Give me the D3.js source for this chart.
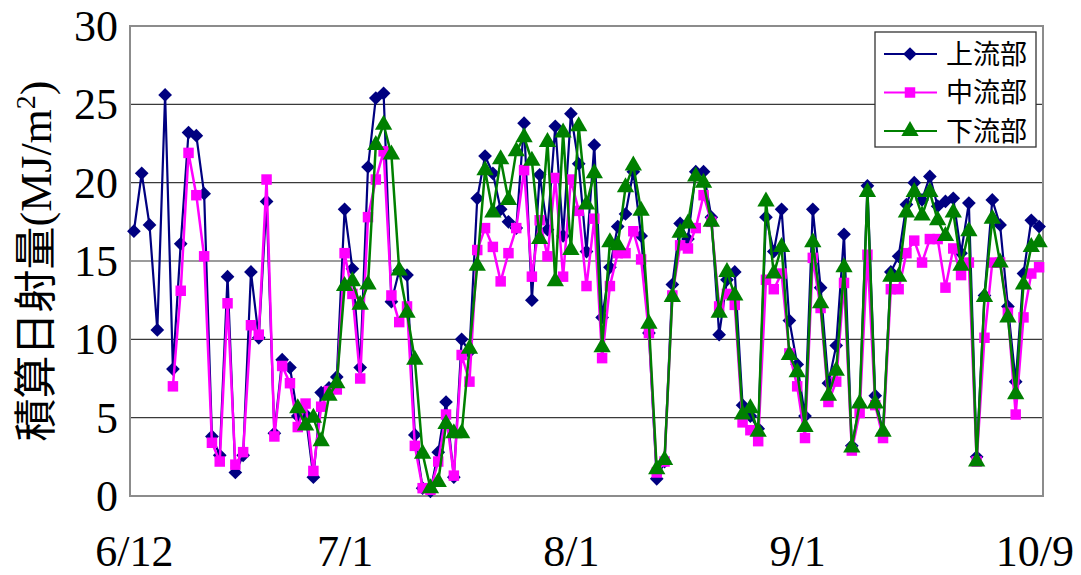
<!DOCTYPE html>
<html>
<head>
<meta charset="utf-8">
<script src="https://cdn.jsdelivr.net/npm/d3@7"></script>
<style>
  html, body { margin: 0; padding: 0; background: #fff; }
  svg { display: block; }
</style>
</head>
<body>
<svg id="chart" width="1081" height="575"></svg>
<script>
// Daily integrated solar radiation (MJ/m2), 6/12 - 10/9
const upstream = [
  16.9, 20.6, 17.3, 10.6, 25.6, 8.1, 16.1, 23.2, 23.0, 19.3,
  3.8, 2.6, 14.0, 1.5, 2.6, 14.3, 10.1, 18.8, 4.0, 8.7,
  8.2, 5.1, 5.2, 1.2, 6.6, 6.9, 7.6, 18.3, 14.5, 8.2,
  21.0, 25.4, 25.7, 12.4, 14.4, 14.1, 3.9, 0.5, 0.3, 2.8,
  6.0, 1.2, 10.0, 9.2, 19.0, 21.7, 20.6, 18.3, 17.5, 17.1,
  23.8, 12.5, 20.5, 17.0, 23.6, 16.6, 24.4, 21.2, 15.6, 22.4,
  11.4, 14.6, 17.2, 18.0, 20.7, 16.6, 10.4, 1.1, 2.2, 13.5,
  17.4, 16.4, 20.7, 20.7, 17.8, 10.3, 13.8, 14.3, 5.8, 5.1,
  4.3, 17.8, 15.6, 18.3, 11.2, 8.4, 5.1, 18.3, 13.3, 7.2,
  9.6, 16.7, 3.2, 5.8, 19.8, 6.4, 4.0, 14.3, 15.3, 18.6,
  20.0, 18.9, 20.4, 18.5, 18.8, 19.0, 15.5, 18.7, 2.5, 12.8,
  18.9, 17.3, 12.1, 7.3, 14.2, 17.6, 17.2
];

const midstream = [
  null, null, null, null, null, 7.0, 13.1, 21.9, 19.2, 15.3,
  3.4, 2.2, 12.3, 2.0, 2.8, 10.9, 10.3, 20.2, 3.8, 8.3,
  7.2, 4.4, 5.9, 1.6, 5.7, 6.7, 6.8, 15.5, 12.9, 7.5,
  17.8, 20.2, 22.0, 12.8, 11.1, 12.1, 3.2, 0.5, 0.4, 2.2,
  5.2, 1.3, 9.0, 7.3, 15.7, 17.1, 15.9, 13.7, 15.5, 17.1,
  20.8, 14.0, 17.6, 15.3, 20.3, 14.0, 20.2, 18.2, 13.4, 17.7,
  8.8, 13.4, 15.5, 15.5, 16.9, 15.1, 10.4, 1.5, 2.2, 12.8,
  16.0, 15.8, 17.1, 19.2, 17.5, 12.1, 12.9, 12.2, 4.7, 4.2,
  3.5, 13.8, 13.2, 14.2, 9.1, 7.0, 3.7, 15.2, 12.0, 6.0,
  7.3, 13.6, 2.9, 5.3, 15.4, 5.8, 3.7, 13.2, 13.2, 15.5,
  16.3, 14.9, 16.4, 16.4, 13.3, 15.8, 14.1, 14.9, 2.2, 10.1,
  14.9, 14.9, 11.7, 5.2, 11.4, 14.2, 14.6
];

const downstream = [
  null, null, null, null, null, null, null, null, null, null,
  null, null, null, null, null, null, null, null, null, null,
  null, 5.6, 4.5, 5.0, 3.5, 6.4, 7.2, 13.4, 13.7, 12.2,
  13.5, 22.4, 23.7, 21.8, 14.4, 11.7, 8.7, 2.7, 0.5, 0.9,
  4.6, 4.0, 4.0, 9.4, 14.7, 20.8, 18.1, 21.5, 18.9, 22.0,
  22.9, 21.4, 16.4, 22.6, 13.7, 23.2, 15.7, 23.6, 18.6, 20.6,
  9.5, 16.2, 16.0, 19.7, 21.1, 18.2, 11.0, 1.7, 2.3, 12.7,
  16.8, 17.4, 20.4, 20.0, 17.5, 11.7, 14.3, 12.8, 5.2, 5.6,
  4.1, 18.8, 14.2, 15.9, 9.0, 7.9, 4.4, 16.2, 12.3, 6.4,
  8.0, 14.6, 3.1, 5.9, 19.4, 5.9, 4.1, 14.0, 14.0, 18.1,
  19.4, 17.9, 19.4, 17.6, 16.6, 18.1, 14.7, 16.9, 2.2, 12.7,
  17.7, 14.9, 11.4, 6.5, 13.5, 15.9, 16.2
];

const seriesNames = ["上流部", "中流部", "下流部"];
const seriesColors = ["#000080", "#ff00ff", "#008000"];
const seriesSymbols = [d3.symbolDiamond2, d3.symbolSquare, d3.symbolTriangle];
const symbolSizes = [120, 110, 130];

// date labels and the day index each one sits under
const dateLabels = ["6/12", "7/1", "8/1", "9/1", "10/9"];
const dateLabelIndex = [0, 27, 56, 85, 115.4];

const yTicks = [0, 5, 10, 15, 20, 25, 30];

const serif = "'Liberation Serif', 'Times New Roman', serif";
const gothic = "'Noto Sans CJK JP', 'Noto Sans', sans-serif";

const svg = d3.select("#chart");
const plot = { left: 130, right: 1043, top: 26, bottom: 496 };
const n = upstream.length;

const x = d3.scaleLinear().domain([-0.5, n - 0.5]).range([plot.left, plot.right]);
const y = d3.scaleLinear().domain([0, 30]).range([plot.bottom, plot.top]);

// horizontal gridlines
svg.append("g")
  .selectAll("line")
  .data(yTicks.filter(v => v > 0 && v < 30))
  .join("line")
  .attr("x1", plot.left).attr("x2", plot.right)
  .attr("y1", d => y(d)).attr("y2", d => y(d))
  .attr("stroke", "#3a3a3a").attr("stroke-width", 1.2);

// plot frame
svg.append("rect")
  .attr("x", plot.left).attr("y", plot.top)
  .attr("width", plot.right - plot.left).attr("height", plot.bottom - plot.top)
  .attr("fill", "none").attr("stroke", "#8c8c8c").attr("stroke-width", 2);

// y axis labels
const yAxis = svg.append("g")
  .attr("transform", `translate(${plot.left},0)`)
  .call(d3.axisLeft(y).tickValues(yTicks).tickSize(0).tickPadding(12).tickFormat(d3.format("d")));
yAxis.select(".domain").remove();
yAxis.selectAll("text")
  .attr("font-family", serif).attr("font-size", 44).attr("fill", "#000")
  .attr("dy", "0.33em");

// x axis labels
const xAxis = svg.append("g")
  .attr("transform", `translate(0,${plot.bottom})`)
  .call(d3.axisBottom(x).tickValues(dateLabelIndex).tickSize(0).tickPadding(0)
    .tickFormat((d, i) => dateLabels[i]));
xAxis.select(".domain").remove();
xAxis.selectAll("text")
  .attr("font-family", serif).attr("font-size", 44).attr("fill", "#000")
  .attr("dy", null).attr("y", 70);

// y axis title
const title = svg.append("text")
  .attr("transform", "translate(51,261) rotate(-90)")
  .attr("text-anchor", "middle")
  .attr("fill", "#000");
title.append("tspan").attr("font-family", gothic).attr("font-size", 43).text("積算日射量");
title.append("tspan").attr("font-family", serif).attr("font-size", 44).text("(MJ/m");
title.append("tspan").attr("font-family", serif).attr("font-size", 28).attr("dy", -16).text("2");
title.append("tspan").attr("font-family", serif).attr("font-size", 44).attr("dy", 16).text(")");

// series
const allSeries = [upstream, midstream, downstream];
const line = d3.line()
  .defined(d => d.v != null)
  .x(d => x(d.i))
  .y(d => y(d.v));

allSeries.forEach((vals, s) => {
  const pts = vals.map((v, i) => ({ i, v }));
  const g = svg.append("g");
  g.append("path")
    .datum(pts)
    .attr("d", line)
    .attr("fill", "none")
    .attr("stroke", seriesColors[s])
    .attr("stroke-width", s === 0 ? 2.2 : 2.5)
    .attr("stroke-linejoin", "round");
  const sym = d3.symbol().type(seriesSymbols[s]).size(symbolSizes[s]);
  g.selectAll("path.mk")
    .data(pts.filter(d => d.v != null))
    .join("path")
    .attr("class", "mk")
    .attr("d", sym)
    .attr("transform", d => `translate(${x(d.i)},${y(d.v)})`)
    .attr("fill", seriesColors[s]);
});

// legend
const legend = svg.append("g").attr("transform", "translate(875,32)");
legend.append("rect")
  .attr("width", 161).attr("height", 115)
  .attr("fill", "#fff").attr("stroke", "#333").attr("stroke-width", 1.3);
seriesNames.forEach((name, s) => {
  const row = legend.append("g").attr("transform", `translate(0,${22 + s * 38.5})`);
  row.append("line")
    .attr("x1", 9).attr("x2", 62).attr("y1", 0).attr("y2", 0)
    .attr("stroke", seriesColors[s]).attr("stroke-width", 2);
  row.append("path")
    .attr("d", d3.symbol().type(seriesSymbols[s]).size(symbolSizes[s])())
    .attr("transform", "translate(35,0)")
    .attr("fill", seriesColors[s]);
  row.append("text")
    .attr("x", 71).attr("y", 0).attr("dy", "0.36em")
    .attr("font-family", gothic).attr("font-size", 27).attr("fill", "#000")
    .text(name);
});
</script>
</body>
</html>
